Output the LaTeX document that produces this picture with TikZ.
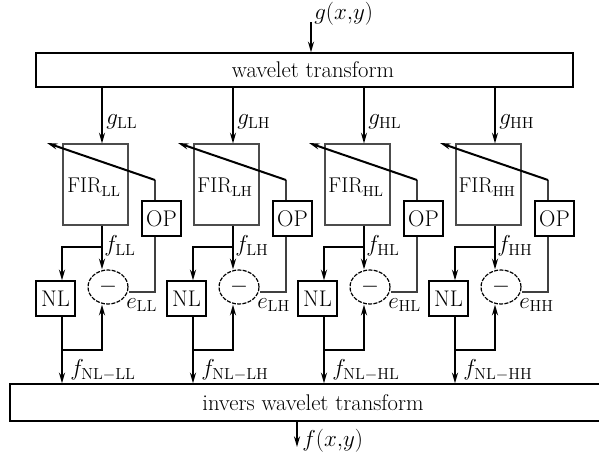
\documentclass[tikz,border=0pt]{standalone}
\usetikzlibrary{arrows.meta,shapes.geometric}
\begin{document}
\begin{tikzpicture}[x=0.75pt,y=-0.75pt,
  font=\fontsize{17}{20}\selectfont,
  arr/.style={line width=1.5pt,-{Stealth[length=8pt,width=4.5pt]}},
  thinln/.style={line width=0.8pt,draw=black!75},
  bigbox/.style={draw,line width=1pt,inner sep=0},
  firbox/.style={draw=black!70,line width=0.8pt,minimum width=48.75pt,minimum height=60.75pt,inner sep=0},
  smallbox/.style={draw,line width=0.9pt,minimum width=29.25pt,minimum height=26.25pt,inner sep=0},
  subtr/.style={draw,ellipse,dash pattern=on 3pt off 1pt,line width=0.9pt,minimum width=30pt,minimum height=25.5pt,inner sep=0},
  lbl/.style={inner sep=0,anchor=west}]
\useasboundingbox (0,0) rectangle (599,457);

% big boxes
\node[bigbox,minimum width=402.75pt,minimum height=25.5pt] (wt) at (304.5,70) {};
\node[inner sep=0] (wtt) at (313,70) {wavelet transform};
\node[bigbox,minimum width=444pt,minimum height=27.75pt] (iwt) at (306,402.5) {};
\node[inner sep=0] (iwtt) at (313,403) {invers wavelet transform};

% input / output
\coordinate (gin) at (311,22);
\draw[arr] (gin) -- (wt.north -| gin);
\node[lbl] (glab) at (314,14) {$g(x{,}y)$};
\coordinate (fout) at (297,447);
\draw[arr] (iwt.south -| fout) -- (fout);
\node[lbl] (flab) at (302,441) {$f(x{,}y)$};

\coordinate (bb) at (0,247);
\coordinate (mm) at (0,350);
\coordinate (jj) at (0,292);

\foreach \i/\s [count=\k] in {0/LL,131/LH,262/HL,393/HH} {
  \coordinate (c\k) at (102+\i,0);
  \coordinate (d\k) at (62+\i,0);
  \coordinate (o\k) at (155+\i,180);
  \coordinate (t\k) at (47+\i,143);
  \node[firbox] (fir\k) at (95.5+\i,184.5) {};
  \node[inner sep=0,font=\fontsize{16}{19}\selectfont] (firt\k) at (94+\i,187) {FIR$_{\mathrm{\s}}$};
  \node[smallbox] (op\k) at (161.5+\i,218.5) {OP};
  \node[smallbox] (nl\k) at (55.5+\i,298.5) {NL};
  \node[subtr] (sub\k) at (108+\i,287) {\raisebox{2pt}{$-$}};
  % connectors
  \draw[arr] (wt.south -| c\k) -- (fir\k.north -| c\k);
  \draw[arr] (fir\k.south -| c\k) -- (sub\k.north -| c\k);
  \draw[arr] (c\k |- bb) -- (d\k |- bb) -- (nl\k.north -| d\k);
  \draw[arr] (nl\k.south -| d\k) -- (iwt.north -| d\k);
  \draw[arr] (d\k |- mm) -- (c\k |- mm) -- (sub\k.south -| c\k);
  \draw[thinln] (o\k) -- (op\k.north -| o\k);
  \draw[thinln] (op\k.south -| o\k) -- (o\k |- jj) -- (sub\k.east |- jj);
  \draw[line width=1.5pt,-{Stealth[length=8pt,width=4.5pt]}] (o\k) -- (t\k);
  % labels
  \node[lbl] (g\k) at (106+\i,122) {$g_{\mathrm{\s}}$};
  \node[lbl] (f\k) at (104+\i,246) {$f_{\mathrm{\s}}$};
  \node[lbl] (e\k) at (126+\i,305) {$e_{\mathrm{\s}}$};
  \node[lbl] (fn\k) at (70+\i,370) {$f_{\mathrm{NL{-}\s}}$};
}
\end{tikzpicture}
\end{document}
